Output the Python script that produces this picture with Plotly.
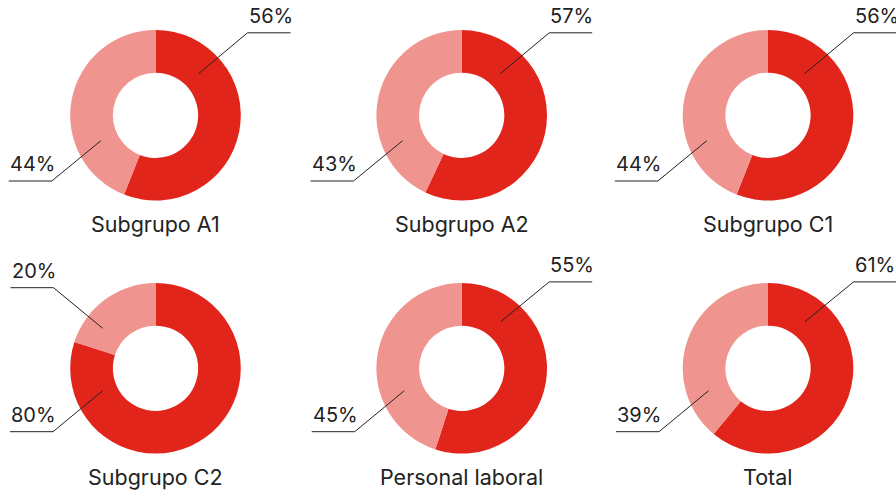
import plotly.graph_objects as go

# ---------------- data ----------------
groups = ["Subgrupo A1", "Subgrupo A2", "Subgrupo C1",
          "Subgrupo C2", "Personal laboral", "Total"]
series = ["Principal", "Resto"]
dark_share = [56, 57, 56, 80, 55, 61]
light_share = [44, 43, 44, 20, 45, 39]
# which side each slice label is drawn on
dark_label_side = ["ur", "ur", "ur", "ll", "ur", "ur"]
light_label_side = ["ll", "ll", "ll", "ul", "ll", "ll"]

# ---------------- style / layout ----------------
W, H = 896, 498
DARK = "#E1251B"
LIGHT = "#F0948F"
INK = "#222222"
FONT = "Inter"
COL_CX = [155.5, 461.7, 768.0]
ROW_CY = [115.3, 368.3]
R = 85.3
HOLE = 0.5
COL_SHIFT = [0.0, -4.5, -6.5]
# (inner point offset, elbow offset) relative to donut centre, per side/row
OFFS = {
    ("ur", 0): ((43.0, -41.5), (92.0, -82.5)),
    ("ur", 1): ((43.5, -46.6), (92.0, -86.4)),
    ("ll", 0): ((-54.6, 25.4), (-103.7, 65.7)),
    ("ll", 1): ((-53.0, 22.5), (-102.5, 63.4)),
    ("ul", 1): ((-52.8, -40.0), (-102.0, -80.6)),
}
UNDERLINE = 43
LABEL_SIZE = 20
TITLE_SIZE = 21.5


def px(x):
    return x / W


def py(y):
    return 1 - y / H


fig = go.Figure()
shapes = []
annotations = []

for i, name in enumerate(groups):
    r, c = divmod(i, 3)
    cx, cy = COL_CX[c], ROW_CY[r]
    fig.add_trace(go.Pie(
        values=[dark_share[i], light_share[i]],
        labels=series,
        name=name,
        hole=HOLE,
        sort=False,
        direction="clockwise",
        rotation=0,
        marker=dict(colors=[DARK, LIGHT], line=dict(width=0)),
        textinfo="none",
        showlegend=False,
        domain=dict(x=[px(cx - R), px(cx + R)], y=[py(cy + R), py(cy - R)]),
        hovertemplate=name + "<br>%{label}: %{value}%<extra></extra>",
    ))

    for val, side in ((dark_share[i], dark_label_side[i]),
                      (light_share[i], light_label_side[i])):
        (ix, iy), (ex, ey) = OFFS[(side, r)]
        sh = COL_SHIFT[c]
        x0, y0 = cx + ix + sh, cy + iy
        x1, y1 = cx + ex + sh, cy + ey
        if side == "ur":
            x2 = x1 + UNDERLINE
            tx = x1
        else:
            x2 = x1 - UNDERLINE
            tx = x2
        for a, b, cc, d in ((x0, y0, x1, y1), (x1, y1, x2, y1)):
            shapes.append(dict(type="line", xref="paper", yref="paper",
                               x0=px(a), y0=py(b), x1=px(cc), y1=py(d),
                               line=dict(color=INK, width=1)))
        annotations.append(dict(
            x=px(tx), y=py(y1 - 17), xref="paper", yref="paper",
            text=f"{val}%", showarrow=False, xanchor="left", yanchor="middle",
            borderpad=0,
            font=dict(family=FONT, size=LABEL_SIZE, color=INK)))

    annotations.append(dict(
        x=px(cx), y=py(cy + 109), xref="paper", yref="paper",
        text=name, showarrow=False, xanchor="center", yanchor="middle",
        font=dict(family=FONT, size=TITLE_SIZE, color=INK)))

fig.update_layout(
    width=W, height=H,
    margin=dict(l=0, r=0, t=0, b=0),
    paper_bgcolor="white", plot_bgcolor="white",
    shapes=shapes, annotations=annotations,
    font=dict(family=FONT, color=INK),
)

fig.write_html(
    "out.html",
    config={"displayModeBar": False},
    post_script="document.body.style.margin='0';document.body.style.overflow='hidden';",
)
